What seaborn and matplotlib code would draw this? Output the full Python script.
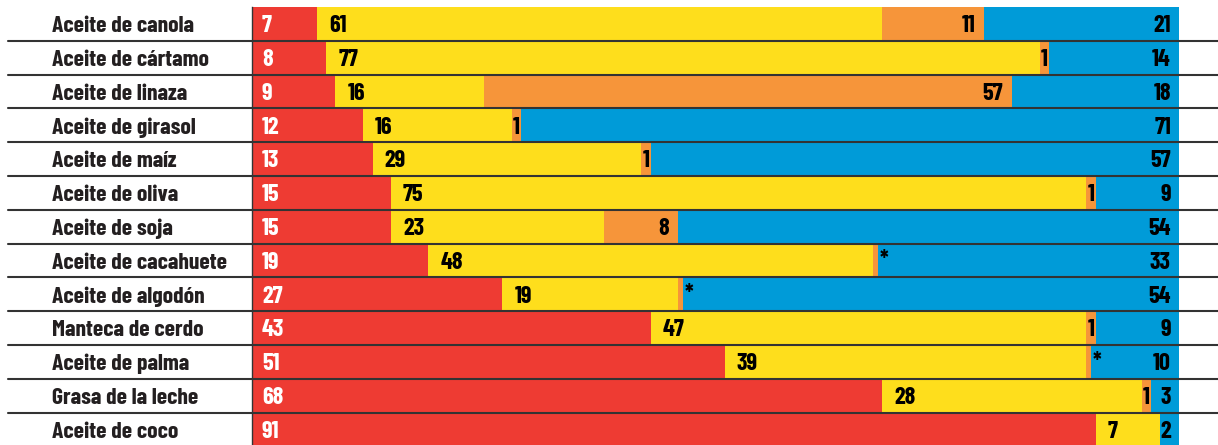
import matplotlib
matplotlib.use("Agg")
import matplotlib.pyplot as plt
import matplotlib.transforms as mtransforms
from matplotlib.lines import Line2D
import seaborn as sns
import numpy as np
import pandas as pd

categories = ["Aceite de canola", "Aceite de cártamo", "Aceite de linaza", "Aceite de girasol",
              "Aceite de maíz", "Aceite de oliva", "Aceite de soja", "Aceite de cacahuete",
              "Aceite de algodón", "Manteca de cerdo", "Aceite de palma", "Grasa de la leche",
              "Aceite de coco"]
red_vals = [7, 8, 9, 12, 13, 15, 15, 19, 27, 43, 51, 68, 91]
yellow_vals = [61, 77, 16, 16, 29, 75, 23, 48, 19, 47, 39, 28, 7]
orange_vals = [11, 1, 57, 1, 1, 1, 8, 0.5, 0.5, 1, 0.5, 1, 0]
blue_vals = [21, 14, 18, 71, 57, 9, 54, 33, 54, 9, 10, 3, 2]
orange_labels = ["11", "1", "57", "1", "1", "1", "8", "*", "*", "1", "*", "1", ""]

RED = "#EE3B33"
YELLOW = "#FEDE1C"
ORANGE = "#F6953A"
BLUE = "#009BD8"

sns.set_theme(style="white")
plt.rcParams["font.family"] = ["Barlow Condensed", "DejaVu Sans"]

W, H = 1218, 445
fig = plt.figure(figsize=(W / 100, H / 100), dpi=100)
x0, x1 = 252, 1179
row_h = 33.8
top = 7
n = len(categories)
bottom_px = top + row_h * n
ax = fig.add_axes([x0 / W, (H - bottom_px) / H, (x1 - x0) / W, (bottom_px - top) / H])

red = np.array(red_vals, float)
yel = np.array(yellow_vals, float)
ora = np.array(orange_vals, float)
blu = np.array(blue_vals, float)
c1 = red
c2 = c1 + yel
c3 = c2 + ora
c4 = c3 + blu

df = pd.DataFrame({"cat": categories, "c1": c1, "c2": c2, "c3": c3, "c4": c4})
for col, color in [("c4", BLUE), ("c3", ORANGE), ("c2", YELLOW), ("c1", RED)]:
    sns.barplot(data=df, x=col, y="cat", orient="h", color=color, width=1.0,
                saturation=1, ax=ax, linewidth=0)

ax.set_xlim(0, 100)
ax.set_ylim(n - 0.5, -0.5)
ax.set_xlabel("")
ax.set_ylabel("")
ax.set_xticks([])
ax.set_yticks([])
for s in ["top", "right", "bottom"]:
    ax.spines[s].set_visible(False)
ax.spines["left"].set_color("#333333")
ax.spines["left"].set_linewidth(1.0)

px = 100 / (x1 - x0)  # data units per pixel
fs = 17
nfs = 17.5
bo = 0.245  # baseline offset in row units
tkw = dict(fontsize=nfs, fontweight=700, va="baseline")
for i in range(n):
    y = i + bo
    ax.text(10 * px, y, str(red_vals[i]), color="white", ha="left", **tkw)
    ax.text(c1[i] + 12 * px, y, str(yellow_vals[i]), color="black", ha="left", **tkw)
    lab = orange_labels[i]
    if lab == "*":
        ax.text(c3[i] + 2 * px, y - 0.04, "*", color="black", ha="left", **tkw)
    elif lab == "1":
        ax.text((c2[i] + c3[i]) / 2, y, lab, color="black", ha="center", **tkw)
    elif lab:
        ax.text(c3[i] - 9 * px, y, lab, color="black", ha="right", **tkw)
    ax.text(100 - 8 * px, y, str(blue_vals[i]), color="black", ha="right", **tkw)

trans = mtransforms.blended_transform_factory(fig.transFigure, ax.transData)
for i in range(n):
    ax.text(52 / W, i + bo, categories[i], transform=trans, ha="left", va="baseline",
            fontsize=fs, fontweight=700, color="#231F20", clip_on=False)
for i in range(n - 1):
    fig.add_artist(Line2D([8 / W, 1.0], [i + 0.5, i + 0.5], transform=trans,
                          color="#333333", linewidth=1.5))

fig.savefig("out.png", dpi=100)
